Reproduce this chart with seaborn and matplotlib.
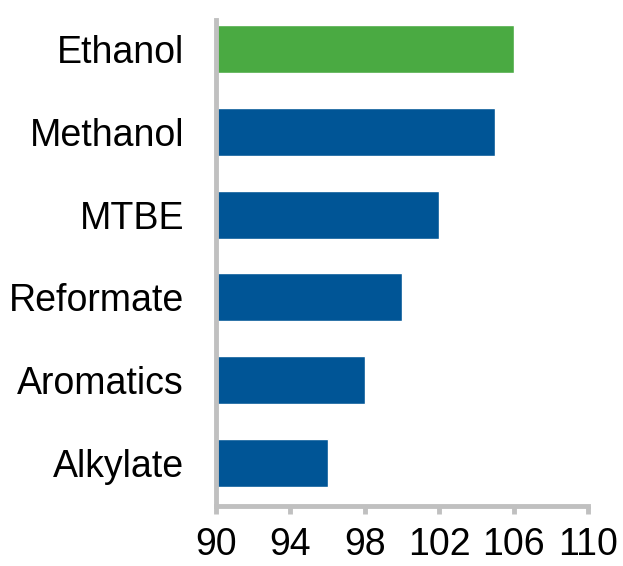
import matplotlib
matplotlib.use("Agg")
import matplotlib.pyplot as plt
import seaborn as sns
import pandas as pd

categories = ["Ethanol", "Methanol", "MTBE", "Reformate", "Aromatics", "Alkylate"]
values = [106, 105, 102, 100, 98, 96]
colors = ["#4aaa42", "#005596", "#005596", "#005596", "#005596", "#005596"]
xticks = [90, 94, 98, 102, 106, 110]

sns.set_style("white")
plt.rcParams['font.family'] = ['Liberation Sans', 'DejaVu Sans']

df = pd.DataFrame({"cat": categories, "val": [v - 90 for v in values]})

fig = plt.figure(figsize=(6.23, 5.66), dpi=100)
ax = fig.add_axes([216/623, 1 - 506/566, (588-216)/623, (506-20)/566])
sns.barplot(data=df, y="cat", x="val", hue="cat", palette=colors, legend=False,
            orient="h", width=0.58, ax=ax, saturation=1, left=90)
ax.set_xlim(90, 110)
ax.set_ylim(5.52, -0.35)
ax.set_xticks(xticks)
ax.set_xticklabels([str(t) for t in xticks])
ax.set_xlabel("")
ax.set_ylabel("")
for s in ["top", "right"]:
    ax.spines[s].set_visible(False)
for s in ["left", "bottom"]:
    ax.spines[s].set_color("#c0c0c0")
    ax.spines[s].set_linewidth(3.5)
ax.tick_params(axis="x", which="major", direction="out", length=6, width=3.5,
               color="#c0c0c0", labelsize=27, pad=9, bottom=True, labelcolor="black")
ax.tick_params(axis="y", length=0, labelsize=27, pad=23, labelcolor="black")
fig.savefig("out.png", dpi=100, facecolor="white")
